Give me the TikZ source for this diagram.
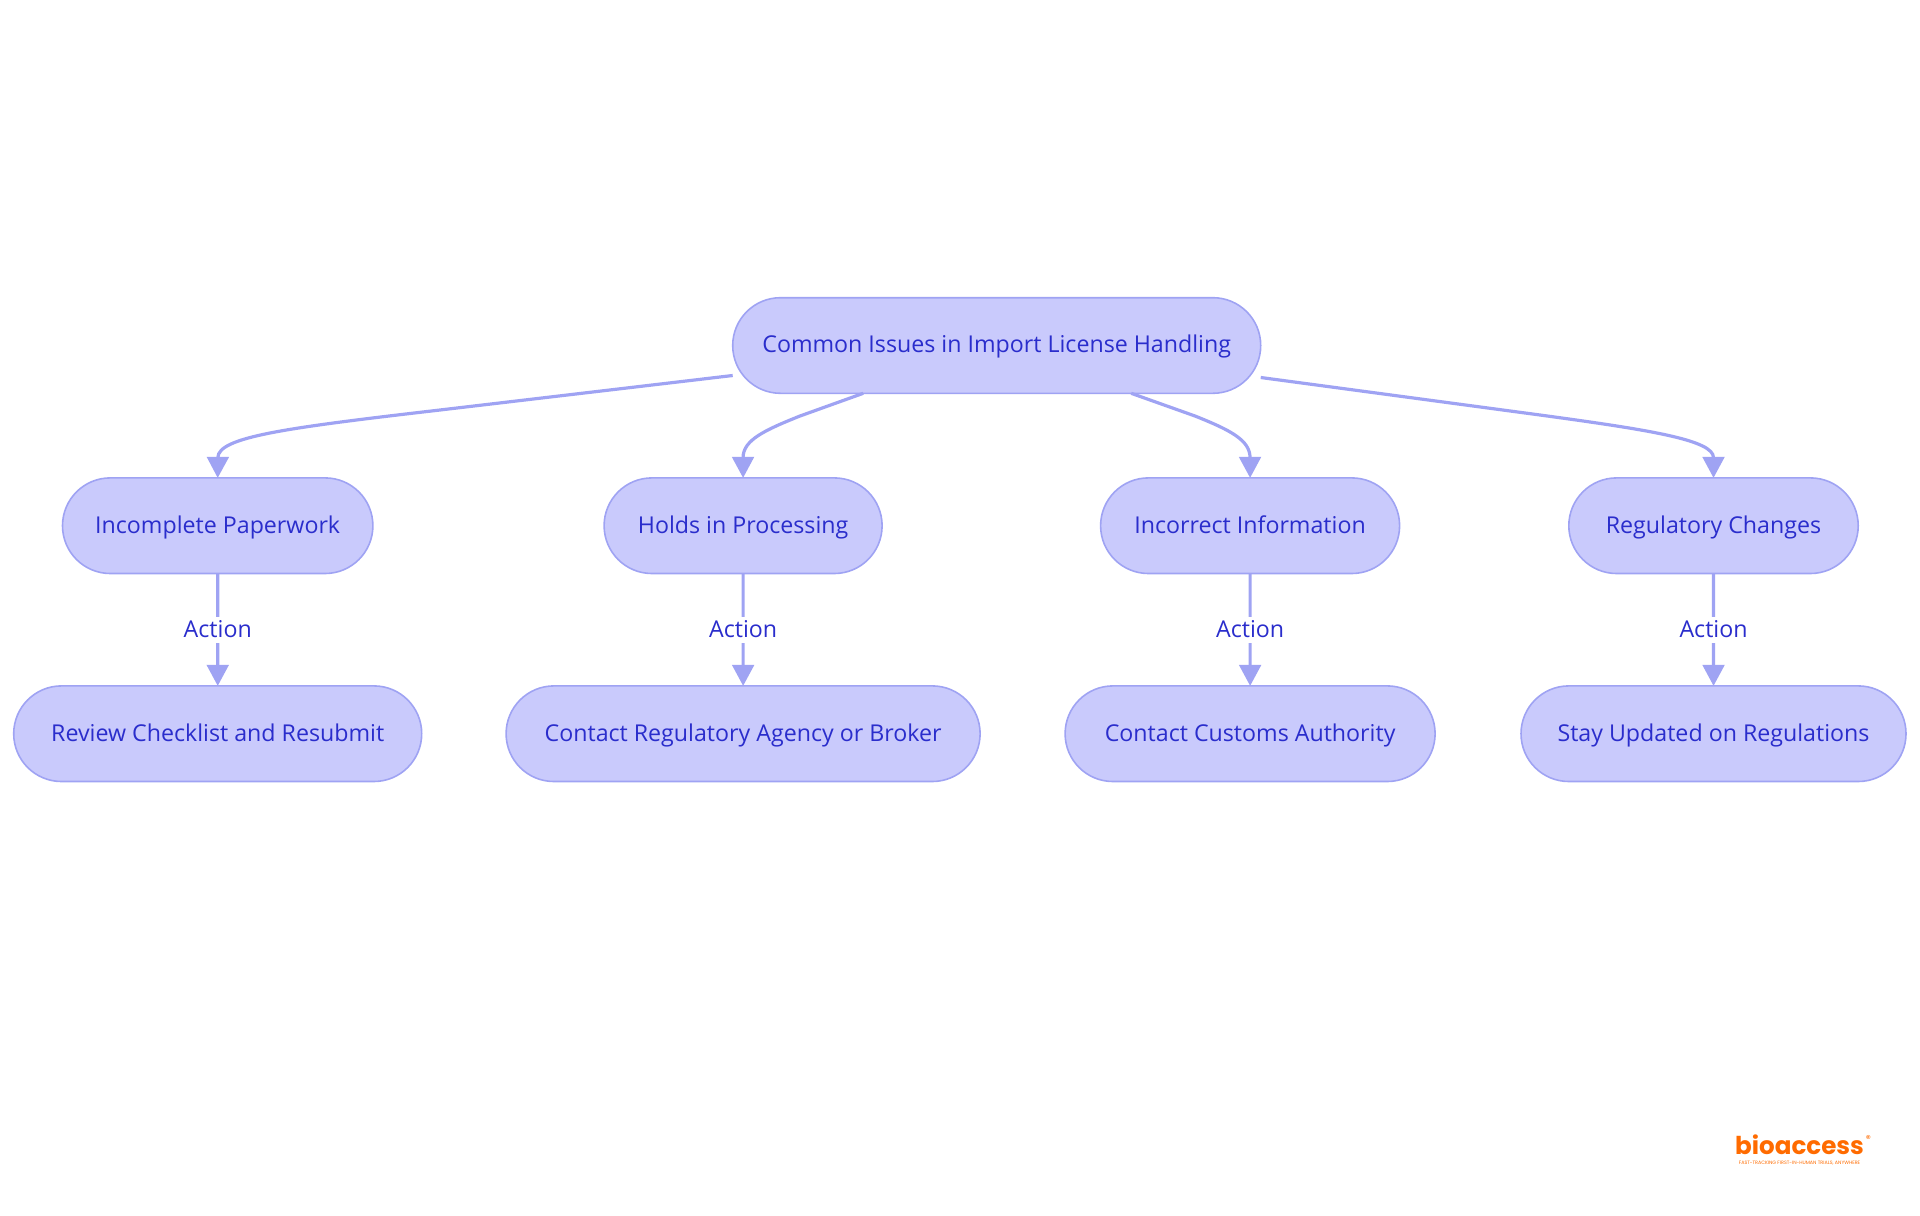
\documentclass[tikz,border=0pt]{standalone}
\usepackage{fontspec}
\setmainfont{Open Sans}
\newfontfamily\logofont{Poppins}
\usetikzlibrary{positioning,arrows.meta,shapes.misc}
\definecolor{nodefill}{HTML}{C9CAFC}
\definecolor{nodeline}{HTML}{9FA3F3}
\definecolor{nodetext}{HTML}{2A2DCC}
\definecolor{logoorange}{HTML}{FF6B00}

\begin{document}
\begin{tikzpicture}[->,>={Triangle[length=10.5pt,width=10.8pt]},x=0.5pt,y=-0.5pt,
    line width=1.6pt,nodeline,
    base node/.style={rounded rectangle,draw=nodeline,fill=nodefill,text=nodetext,line width=0.8pt,minimum height=47.8pt,inner sep=0pt,outer sep=0pt,text height=9pt,text depth=1.6pt,font=\fontsize{11.6}{14}\selectfont},
    action label/.style={fill=white,text=nodetext,inner xsep=0pt,inner ysep=1.2pt,text height=9pt,text depth=1.6pt,font=\fontsize{11.6}{14}\selectfont}]
\useasboundingbox (0,0) rectangle (1920,1215);

\node[base node,minimum width=264pt] (root) at (996.7,345.5) {Common Issues in Import License Handling};

\node[base node,minimum width=155.2pt] (inc) at (217.7,525.7) {Incomplete Paperwork};
\node[base node,minimum width=139pt,node distance=262.7pt] (hold) [right of=inc] {Holds in Processing};
\node[base node,minimum width=149.5pt,node distance=253.5pt] (info) [right of=hold] {Incorrect Information};
\node[base node,minimum width=144.7pt,node distance=231.7pt] (reg) [right of=info] {Regulatory Changes};

\node[base node,minimum width=204pt,node distance=104pt] (rev) [below of=inc] {Review Checklist and Resubmit};
\node[base node,minimum width=237pt,node distance=104pt] (agency) [below of=hold] {Contact Regulatory Agency or Broker};
\node[base node,minimum width=185pt,node distance=104pt] (customs) [below of=info] {Contact Customs Authority};
\node[base node,minimum width=192.5pt,node distance=104pt] (stay) [below of=reg] {Stay Updated on Regulations};

% free ends, the lines stop short of the round corners
\coordinate (rootw) at ([yshift=-15pt]root.west);
\coordinate (roote) at ([yshift=-16pt]root.east);
\coordinate (rootsl) at ([xshift=-66.75pt]root.south);
\coordinate (rootsr) at ([xshift=67.25pt]root.south);

\draw (rootw) -- (440,410) .. controls (285,428) and (218,437) .. (inc.north);
\draw (rootsl) -- (800,416) .. controls (765,430) and (743,440) .. (hold.north);
\draw (rootsr) -- (1195,416) .. controls (1230,430) and (1250,440) .. (info.north);
\draw (roote) -- (1540,415) .. controls (1650,430) and (1713.5,440) .. (reg.north);

\path (inc) edge node[action label] {Action} (rev);
\path (hold) edge node[action label] {Action} (agency);
\path (info) edge node[action label] {Action} (customs);
\path (reg) edge node[action label] {Action} (stay);

\node[text=logoorange,inner sep=0pt,font=\logofont\bfseries\fontsize{12.3}{14}\selectfont] (logo) at (1799.5,1144.5) {bioaccess};
\node[text=logoorange,inner sep=0pt,font=\logofont\fontsize{2.4}{3}\selectfont,below=1.6pt of logo] (tagline) {FAST-TRACKING FIRST-IN-HUMAN TRIALS, ANYWHERE};
\node[text=logoorange,inner sep=0pt,font=\logofont\fontsize{5}{5}\selectfont,anchor=north west] (regmark) at ([xshift=-0.6pt,yshift=-0.5pt]logo.north east) {®};
\end{tikzpicture}
\end{document}
